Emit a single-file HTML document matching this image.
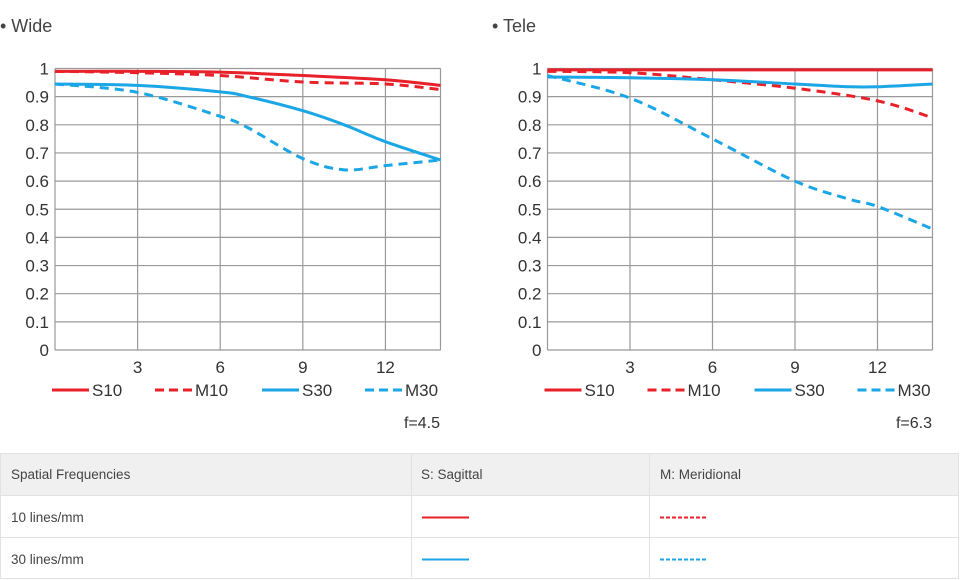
<!DOCTYPE html>
<html><head><meta charset="utf-8"><style>
html,body{margin:0;padding:0;background:#fff;width:960px;height:580px;overflow:hidden}
svg{position:absolute;left:0;top:0}
</style></head><body>
<svg id="s" width="960" height="580" xmlns="http://www.w3.org/2000/svg" font-family="'Liberation Sans',sans-serif">
<text x="0" y="32" font-size="18" fill="#444">• Wide</text>
<text x="492" y="32" font-size="18" fill="#444">• Tele</text>
<text x="440" y="428" font-size="16" fill="#333" text-anchor="end">f=4.5</text>
<text x="932" y="428" font-size="16" fill="#333" text-anchor="end">f=6.3</text>
<rect x="0.5" y="453.5" width="958" height="42" fill="#f0f0f0"/>
<g stroke="#e2e2e2" stroke-width="1" fill="none">
<rect x="0.5" y="453.5" width="958" height="125"/>
<line x1="0" y1="495.5" x2="959" y2="495.5"/>
<line x1="0" y1="537.5" x2="959" y2="537.5"/>
<line x1="411.5" y1="453" x2="411.5" y2="579"/>
<line x1="649.5" y1="453" x2="649.5" y2="579"/>
</g>
<g font-size="13.5" fill="#444">
<text x="11" y="479">Spatial Frequencies</text>
<text x="421" y="479">S: Sagittal</text>
<text x="660" y="479">M: Meridional</text>
<text x="11" y="522">10 lines/mm</text>
<text x="11" y="564">30 lines/mm</text>
</g>
<line x1="422" y1="517.5" x2="469" y2="517.5" stroke="#e8202a" stroke-width="2"/>
<line x1="660" y1="517.5" x2="708" y2="517.5" stroke="#e8202a" stroke-width="2" stroke-dasharray="4,2"/>
<line x1="422" y1="559.5" x2="469" y2="559.5" stroke="#1ba6e6" stroke-width="2"/>
<line x1="660" y1="559.5" x2="708" y2="559.5" stroke="#1ba6e6" stroke-width="2" stroke-dasharray="4,2"/>
<g id="g"></g>
</svg>
<script>
var g=document.getElementById('g'),NS='http://www.w3.org/2000/svg';
function el(t,a,txt){var e=document.createElementNS(NS,t);for(var k in a)e.setAttribute(k,a[k]);if(txt!==undefined)e.textContent=txt;g.appendChild(e);return e;}
var RED='#e8202a',BLUE='#1ba6e6';
function chart(x0,x1,data){
 var y0=350,y1=68.5,sx=(x1-x0)/14,sy=(y0-y1);
 for(var i=0;i<=10;i++){var y=y0-sy*i/10;el('line',{x1:x0,y1:y,x2:x1,y2:y,stroke:'#999','stroke-width':1.2});
  el('text',{x:x0-6,y:y+6,'font-size':17,fill:'#333','text-anchor':'end'},i==0?'0':i==10?'1':'0.'+i);}
 [0,3,6,9,12,14].forEach(function(v){var x=x0+v*sx;el('line',{x1:x,y1:y1,x2:x,y2:y0,stroke:'#999','stroke-width':1.2});
  if(v%3==0&&v>0)el('text',{x:x,y:373,'font-size':17,fill:'#333','text-anchor':'middle'},''+v);});
 data.forEach(function(d){
  var p=d.p.map(function(q){return [x0+q[0]*sx,y0-q[1]*sy];});
  var s='M'+p[0][0]+','+p[0][1];
  for(var i=0;i<p.length-1;i++){var a=p[i-1]||p[i],b=p[i],c=p[i+1],e=p[i+2]||c;
   s+=' C'+(b[0]+(c[0]-a[0])/6)+','+(b[1]+(c[1]-a[1])/6)+' '+(c[0]-(e[0]-b[0])/6)+','+(c[1]-(e[1]-b[1])/6)+' '+c[0]+','+c[1];}
  el('path',{d:s,fill:'none',stroke:d.c,'stroke-width':3,'stroke-dasharray':d.d?'9,6':'none'});
 });
 var lx=[x0-3,x0+100,x0+207,x0+310],lab=['S10','M10','S30','M30'];
 for(var i=0;i<4;i++){el('line',{x1:lx[i],y1:390,x2:lx[i]+37,y2:390,stroke:i<2?RED:BLUE,'stroke-width':3,'stroke-dasharray':i%2?'9,5':'none'});
  el('text',{x:lx[i]+40,y:396,'font-size':17,fill:'#333'},lab[i]);}
}
chart(55,440.5,[
 {c:RED,d:0,p:[[0,.99],[3,.99],[6,.987],[9,.975],[12,.96],[14,.94]]},
 {c:RED,d:1,p:[[0,.99],[3,.985],[6,.975],[9,.952],[12,.945],[14,.925]]},
 {c:BLUE,d:0,p:[[0,.945],[3,.94],[6,.917],[7,.9],[9,.85],[10.5,.8],[12,.74],[14,.675]]},
 {c:BLUE,d:1,p:[[0,.945],[3,.915],[6,.83],[7,.79],[9,.68],[10.5,.64],[12,.655],[14,.675]]}
]);
chart(547.5,932.5,[
 {c:RED,d:0,p:[[0,.995],[7,.995],[14,.995]]},
 {c:RED,d:1,p:[[0,.99],[3,.985],[6,.96],[9,.93],[12,.885],[14,.825]]},
 {c:BLUE,d:0,p:[[0,.97],[3,.967],[6,.96],[9,.945],[11,.935],[12,.935],[14,.945]]},
 {c:BLUE,d:1,p:[[0,.975],[3,.895],[6,.75],[9,.6],[11,.535],[12,.51],[14,.43]]}
]);
</script>
</body></html>
